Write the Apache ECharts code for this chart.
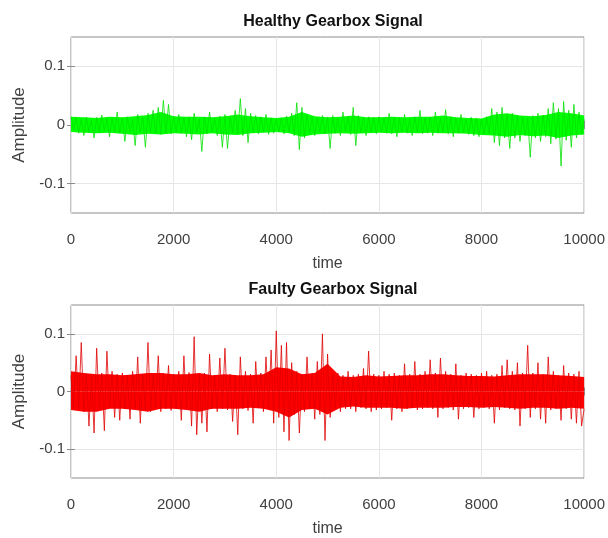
<!DOCTYPE html>
<html>
<head>
<meta charset="utf-8">
<script src="https://cdn.jsdelivr.net/npm/echarts@6/dist/echarts.min.js"></script>
<style>
html,body{margin:0;padding:0;background:#fff;}
#gearbox{width:608px;height:538px;}
</style>
</head>
<body>
<div id="gearbox"></div>
<script>
// samples are read every 50 points of time, amplitudes in thousandths
var timeStep = 50;
var healthyMilli = [
14,-8,12,-14,10,-18,13,-12,9,-22,13,-12,17,-10,11,-20,12,-13,22,-14,
12,-28,14,-12,10,-35,18,-12,13,-38,20,-13,25,-14,30,-16,42,-14,35,-15,
15,-12,18,-14,12,-20,14,-25,20,-13,10,-45,14,-15,22,-12,12,-18,15,-38,
18,-40,14,-13,25,-15,45,-18,28,-30,20,-13,16,-15,14,-12,18,-16,12,-14,
10,-12,12,-15,15,-12,20,-18,38,-42,30,-22,18,-14,14,-18,12,-12,16,-15,
13,-40,16,-14,12,-18,22,-12,14,-16,30,-35,16,-13,12,-18,14,-12,13,-15,
14,-12,12,-14,20,-15,13,-20,12,-12,18,-14,10,-18,14,-12,25,-15,12,-14,
13,-18,22,-14,12,-12,26,-15,14,-20,12,-14,18,-12,10,-16,13,-18,12,-20,
10,-16,14,-15,28,-30,22,-35,30,-22,18,-40,20,-22,16,-28,14,-18,12,-55,
16,-22,20,-28,17,-20,28,-32,38,-24,28,-70,40,-26,25,-38,35,-22,22,-16,
10
];
var faultyMilli = [
28,-32,62,-30,85,-35,30,-60,28,-72,75,-30,32,-68,70,-28,35,-45,30,-50,
32,-30,28,-48,35,-30,60,-55,30,-32,85,-35,30,-28,62,-35,32,-30,45,-33,
30,-28,35,-50,62,-30,33,-60,95,-75,30,-55,32,-70,65,-30,28,-35,58,-30,
75,-32,30,-52,28,-75,60,-30,35,-33,30,-55,52,-28,32,-35,60,-30,72,-55,
105,-45,80,-70,85,-85,50,-40,35,-72,30,-35,60,-30,32,-48,52,-40,100,-85,
65,-45,30,-28,32,-35,28,-30,35,-30,28,-35,30,-28,40,-30,70,-35,30,-32,
28,-30,35,-28,30,-50,32,-30,28,-35,48,-30,30,-28,52,-32,30,-30,35,-28,
55,-30,32,-45,58,-30,35,-28,30,-32,48,-48,28,-30,32,-28,30,-45,28,-30,
32,-28,35,-30,28,-55,30,-32,45,-28,55,-30,35,-32,50,-60,32,-30,80,-45,
32,-30,50,-48,30,-55,60,-32,35,-30,28,-50,45,-30,32,-48,30,-55,35,-60,
-30
];
// dense core of each signal, read every 250 points of time (thousandths)
var coreStep = 250;
var healthyCoreHi = [14,13,12,14,13,15,17,22,15,14,14,13,15,18,15,13,12,14,22,15,13,14,16,13,13,14,13,14,14,16,13,12,11,18,20,16,15,17,22,20,16];
var healthyCoreLo = [-12,-13,-14,-13,-15,-17,-15,-16,-14,-15,-16,-14,-16,-17,-14,-13,-12,-14,-20,-16,-15,-14,-15,-14,-13,-14,-13,-14,-13,-14,-14,-15,-17,-18,-20,-17,-19,-18,-22,-18,-16];
var faultyCoreHi = [35,32,30,30,28,30,32,32,30,30,32,28,30,28,28,30,42,40,30,32,48,26,25,28,26,27,28,28,30,30,28,27,27,26,28,30,30,30,28,27,25];
var faultyCoreLo = [-32,-35,-35,-30,-30,-32,-35,-30,-30,-32,-35,-30,-30,-30,-28,-30,-35,-45,-32,-30,-40,-28,-26,-28,-28,-28,-30,-28,-28,-28,-27,-27,-28,-27,-28,-30,-28,-28,-30,-28,-30];

var titles = ['Healthy Gearbox Signal', 'Faulty Gearbox Signal'];
var yTicks = [-0.1, 0, 0.1];

function toPairs(arr, step){
    return arr.map(function(v, i){ return [i * step, v / 1000]; });
}

var chartDom = document.getElementById('gearbox');
var myChart = echarts.init(chartDom);
var option;

var gridTops = [37, 305];
var gridHeights = [176, 178];
var tickFont = {color: '#404040', fontSize: 15, fontFamily: 'Liberation Sans, Arial'};

var grids = [], xAxes = [], yAxes = [], series = [], titleList = [];
[0, 1].forEach(function(k){
    grids.push({left: 71, right: 21, top: gridTops[k], height: gridHeights[k],
        show: true, borderColor: '#8c8c8c', borderWidth: 1, backgroundColor: '#fff'});
    titleList.push({text: titles[k], left: 328, textAlign: 'center', top: gridTops[k] - 28,
        textStyle: {fontSize: 16, fontWeight: 'bold', color: '#111', fontFamily: 'Liberation Sans, Arial'}});
    xAxes.push({
        type: 'value', gridIndex: k, min: 0, max: 10000, interval: 2000,
        name: 'time', nameLocation: 'middle', nameGap: 43,
        nameTextStyle: {fontSize: 16, color: '#404040', fontFamily: 'Liberation Sans, Arial'},
        axisLine: {show: false},
        axisTick: {inside: true, length: 4, lineStyle: {color: '#8c8c8c'}},
        axisLabel: Object.assign({margin: 19, formatter: function(v){ return String(v); }}, tickFont),
        splitLine: {show: true, lineStyle: {color: '#e6e6e6', width: 1}}
    });
    xAxes.push({
        type: 'value', gridIndex: k, position: 'top', min: 0, max: 10000, interval: 2000,
        axisLine: {show: false}, axisLabel: {show: false}, splitLine: {show: false},
        axisTick: {inside: true, length: 4, lineStyle: {color: '#8c8c8c'}}
    });
    yAxes.push({
        type: 'value', gridIndex: k, min: -0.15, max: 0.15,
        name: 'Amplitude', nameLocation: 'middle', nameGap: 34,
        nameTextStyle: {fontSize: 17, color: '#404040', fontFamily: 'Liberation Sans, Arial'},
        axisLine: {show: false},
        axisTick: {inside: true, length: 4, customValues: yTicks, lineStyle: {color: '#8c8c8c'}},
        axisLabel: Object.assign({margin: 6, customValues: yTicks}, tickFont),
        splitLine: {show: true, lineStyle: {color: '#e6e6e6', width: 1}}
    });
    yAxes.push({
        type: 'value', gridIndex: k, position: 'right', min: -0.15, max: 0.15,
        axisLine: {show: false}, axisLabel: {show: false}, splitLine: {show: false},
        axisTick: {inside: true, length: 4, customValues: yTicks, lineStyle: {color: '#8c8c8c'}}
    });
});

function addSignal(axisIdx, hi, lo, raw, fill, stroke){
    // core band: upper and lower envelopes each filled towards zero
    [hi, lo].forEach(function(env){
        series.push({
            type: 'line', xAxisIndex: axisIdx, yAxisIndex: axisIdx,
            data: toPairs(env, coreStep), showSymbol: false, silent: true,
            lineStyle: {width: 0}, areaStyle: {color: fill, opacity: 1, origin: 0}
        });
    });
    series.push({
        type: 'line', xAxisIndex: axisIdx, yAxisIndex: axisIdx,
        data: toPairs(raw, timeStep), showSymbol: false,
        lineStyle: {color: stroke, width: 0.8}
    });
}
addSignal(0, healthyCoreHi, healthyCoreLo, healthyMilli, '#00ff00', '#00e000');
addSignal(2, faultyCoreHi, faultyCoreLo, faultyMilli, '#ff0000', '#e00000');

option = {
    animation: false,
    title: titleList,
    grid: grids,
    xAxis: xAxes,
    yAxis: yAxes,
    series: series
};

option && myChart.setOption(option);
</script>
</body>
</html>
